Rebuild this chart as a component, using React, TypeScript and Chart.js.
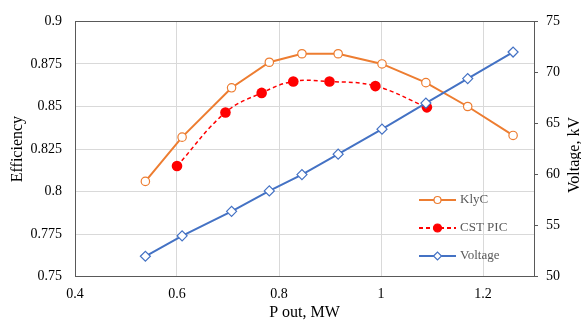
import React, { useEffect, useRef } from "react";
import { Chart, registerables } from "chart.js";

Chart.register(...registerables);

// ---- data ----
const pOutKlyC = [0.538, 0.61, 0.707, 0.781, 0.845, 0.916, 1.002, 1.088, 1.17, 1.259];
const effKlyC = [0.806, 0.832, 0.861, 0.876, 0.881, 0.881, 0.875, 0.864, 0.85, 0.833];

const pOutCST = [0.6, 0.695, 0.766, 0.828, 0.899, 0.989, 1.09];
const effCST = [0.815, 0.8465, 0.858, 0.8647, 0.8647, 0.862, 0.8495];

const voltage = [52, 54, 56.4, 58.4, 60, 62, 64.45, 67, 69.4, 72];

const xTicks = [0.4, 0.6, 0.8, 1, 1.2];
const effTicks = [0.75, 0.775, 0.8, 0.825, 0.85, 0.875, 0.9];
const voltTicks = [50, 55, 60, 65, 70, 75];

const seriesNames = ["KlyC", "CST PIC", "Voltage"];
const xTitle = "P out, MW";
const yTitle = "Efficiency";
const y2Title = "Voltage, kV";

const FONT = "'Liberation Serif', 'Times New Roman', serif";
const ORANGE = "#ED7D31";
const RED = "#FF0000";
const BLUE = "#4472C4";
const AXIS = "#595959";
const GRID = "#D9D9D9";

const overlayPlugin = {
  id: "overlay",
  afterDraw(chart: any) {
    const { ctx, chartArea } = chart;
    const { left, right, top, bottom } = chartArea;
    ctx.save();
    // frame
    ctx.strokeStyle = AXIS;
    ctx.lineWidth = 1;
    ctx.strokeRect(Math.round(left) + 0.5, Math.round(top) + 0.5, Math.round(right - left), Math.round(bottom - top));

    // titles
    ctx.fillStyle = "#000";
    ctx.font = `16px ${FONT}`;
    ctx.textAlign = "center";
    ctx.textBaseline = "middle";
    ctx.fillText(xTitle, (left + right) / 2, 313);
    ctx.save();
    ctx.translate(18, (top + bottom) / 2);
    ctx.rotate(-Math.PI / 2);
    ctx.fillText(yTitle, 0, 0);
    ctx.restore();
    ctx.save();
    ctx.translate(575, (top + bottom) / 2 + 6);
    ctx.rotate(-Math.PI / 2);
    ctx.fillText(y2Title, 0, 0);
    ctx.restore();

    // legend
    const x0 = right - 115;
    const x1 = right - 78;
    const xm = (x0 + x1) / 2;
    const rows = [200, 228, 256];
    const styles = [
      { color: ORANGE, dash: [] as number[], marker: "circle", fill: "#fff", r: 3.5 },
      { color: RED, dash: [4, 3], marker: "circle", fill: RED, r: 4 },
      { color: BLUE, dash: [] as number[], marker: "diamond", fill: "#fff", r: 4 },
    ];
    ctx.font = `13px ${FONT}`;
    ctx.textAlign = "left";
    ctx.textBaseline = "middle";
    rows.forEach((y, i) => {
      const s = styles[i];
      ctx.strokeStyle = s.color;
      ctx.lineWidth = 2;
      ctx.setLineDash(s.dash);
      ctx.beginPath();
      ctx.moveTo(x0, y);
      ctx.lineTo(x1, y);
      ctx.stroke();
      ctx.setLineDash([]);
      ctx.fillStyle = s.fill;
      ctx.lineWidth = 1.2;
      ctx.beginPath();
      if (s.marker === "circle") {
        ctx.arc(xm, y, s.r, 0, Math.PI * 2);
      } else {
        ctx.moveTo(xm - s.r, y);
        ctx.lineTo(xm, y - s.r);
        ctx.lineTo(xm + s.r, y);
        ctx.lineTo(xm, y + s.r);
        ctx.closePath();
      }
      ctx.fill();
      ctx.stroke();
      ctx.fillStyle = AXIS;
      ctx.fillText(seriesNames[i], x1 + 4, y);
    });
    ctx.restore();
  },
};

export default function App() {
  const ref = useRef<HTMLCanvasElement | null>(null);
  useEffect(() => {
    if (!ref.current) return;
    const chart = new Chart(ref.current, {
      type: "line",
      data: {
        datasets: [
          {
            label: seriesNames[0],
            data: pOutKlyC.map((x, i) => ({ x, y: effKlyC[i] })),
            borderColor: ORANGE,
            backgroundColor: "#fff",
            borderWidth: 2,
            pointRadius: 4.2,
            pointBorderWidth: 1.2,
            pointStyle: "circle",
            yAxisID: "y",
            order: 2,
          },
          {
            label: seriesNames[1],
            data: pOutCST.map((x, i) => ({ x, y: effCST[i] })),
            borderColor: RED,
            backgroundColor: RED,
            borderWidth: 1.5,
            borderDash: [4, 3],
            tension: 0.4,
            pointRadius: 5.3,
            pointBorderWidth: 0,
            pointStyle: "circle",
            yAxisID: "y",
            order: 1,
          },
          {
            label: seriesNames[2],
            data: pOutKlyC.map((x, i) => ({ x, y: voltage[i] })),
            borderColor: BLUE,
            backgroundColor: "#fff",
            borderWidth: 2,
            pointRadius: 5,
            pointBorderWidth: 1.2,
            pointStyle: "rectRot",
            yAxisID: "y2",
            order: 0,
          },
        ],
      },
      options: {
        responsive: false,
        animation: false,
        layout: { padding: { top: 16, left: 0, right: 0, bottom: 0 } },
        plugins: { legend: { display: false }, tooltip: { enabled: false } },
        scales: {
          x: {
            type: "linear",
            min: 0.4,
            max: 1.3,
            afterFit: (s: any) => { s.height = 48.3; },
            afterBuildTicks: (s: any) => { s.ticks = xTicks.map((v) => ({ value: v })); },
            ticks: {
              padding: 9,
              color: "#000",
              font: { family: FONT, size: 14 },
              callback: (v: any) => String(Math.round(Number(v) * 1000) / 1000),
            },
            grid: { color: GRID, drawTicks: false },
            border: { display: false },
          },
          y: {
            type: "linear",
            position: "left",
            min: 0.75,
            max: 0.9,
            afterFit: (s: any) => { s.width = 75; },
            afterBuildTicks: (s: any) => { s.ticks = effTicks.map((v) => ({ value: v })); },
            ticks: {
              padding: 13,
              color: "#000",
              font: { family: FONT, size: 14 },
              callback: (v: any) => String(Math.round(Number(v) * 1000) / 1000),
            },
            grid: { color: GRID, drawTicks: false },
            border: { display: false },
          },
          y2: {
            type: "linear",
            position: "right",
            min: 50,
            max: 75,
            afterFit: (s: any) => { s.width = 47; },
            afterBuildTicks: (s: any) => { s.ticks = voltTicks.map((v) => ({ value: v })); },
            ticks: {
              padding: 8,
              color: "#000",
              font: { family: FONT, size: 14 },
            },
            grid: { color: AXIS, drawOnChartArea: false, drawTicks: true, tickLength: 4 },
            border: { display: false },
          },
        },
      },
      plugins: [overlayPlugin],
    });
    return () => chart.destroy();
  }, []);
  return (
    <div style={{ position: "fixed", left: 0, top: 0, width: 581, height: 325, background: "#fff" }}>
      <canvas ref={ref} width={581} height={325} style={{ display: "block" }} />
    </div>
  );
}
